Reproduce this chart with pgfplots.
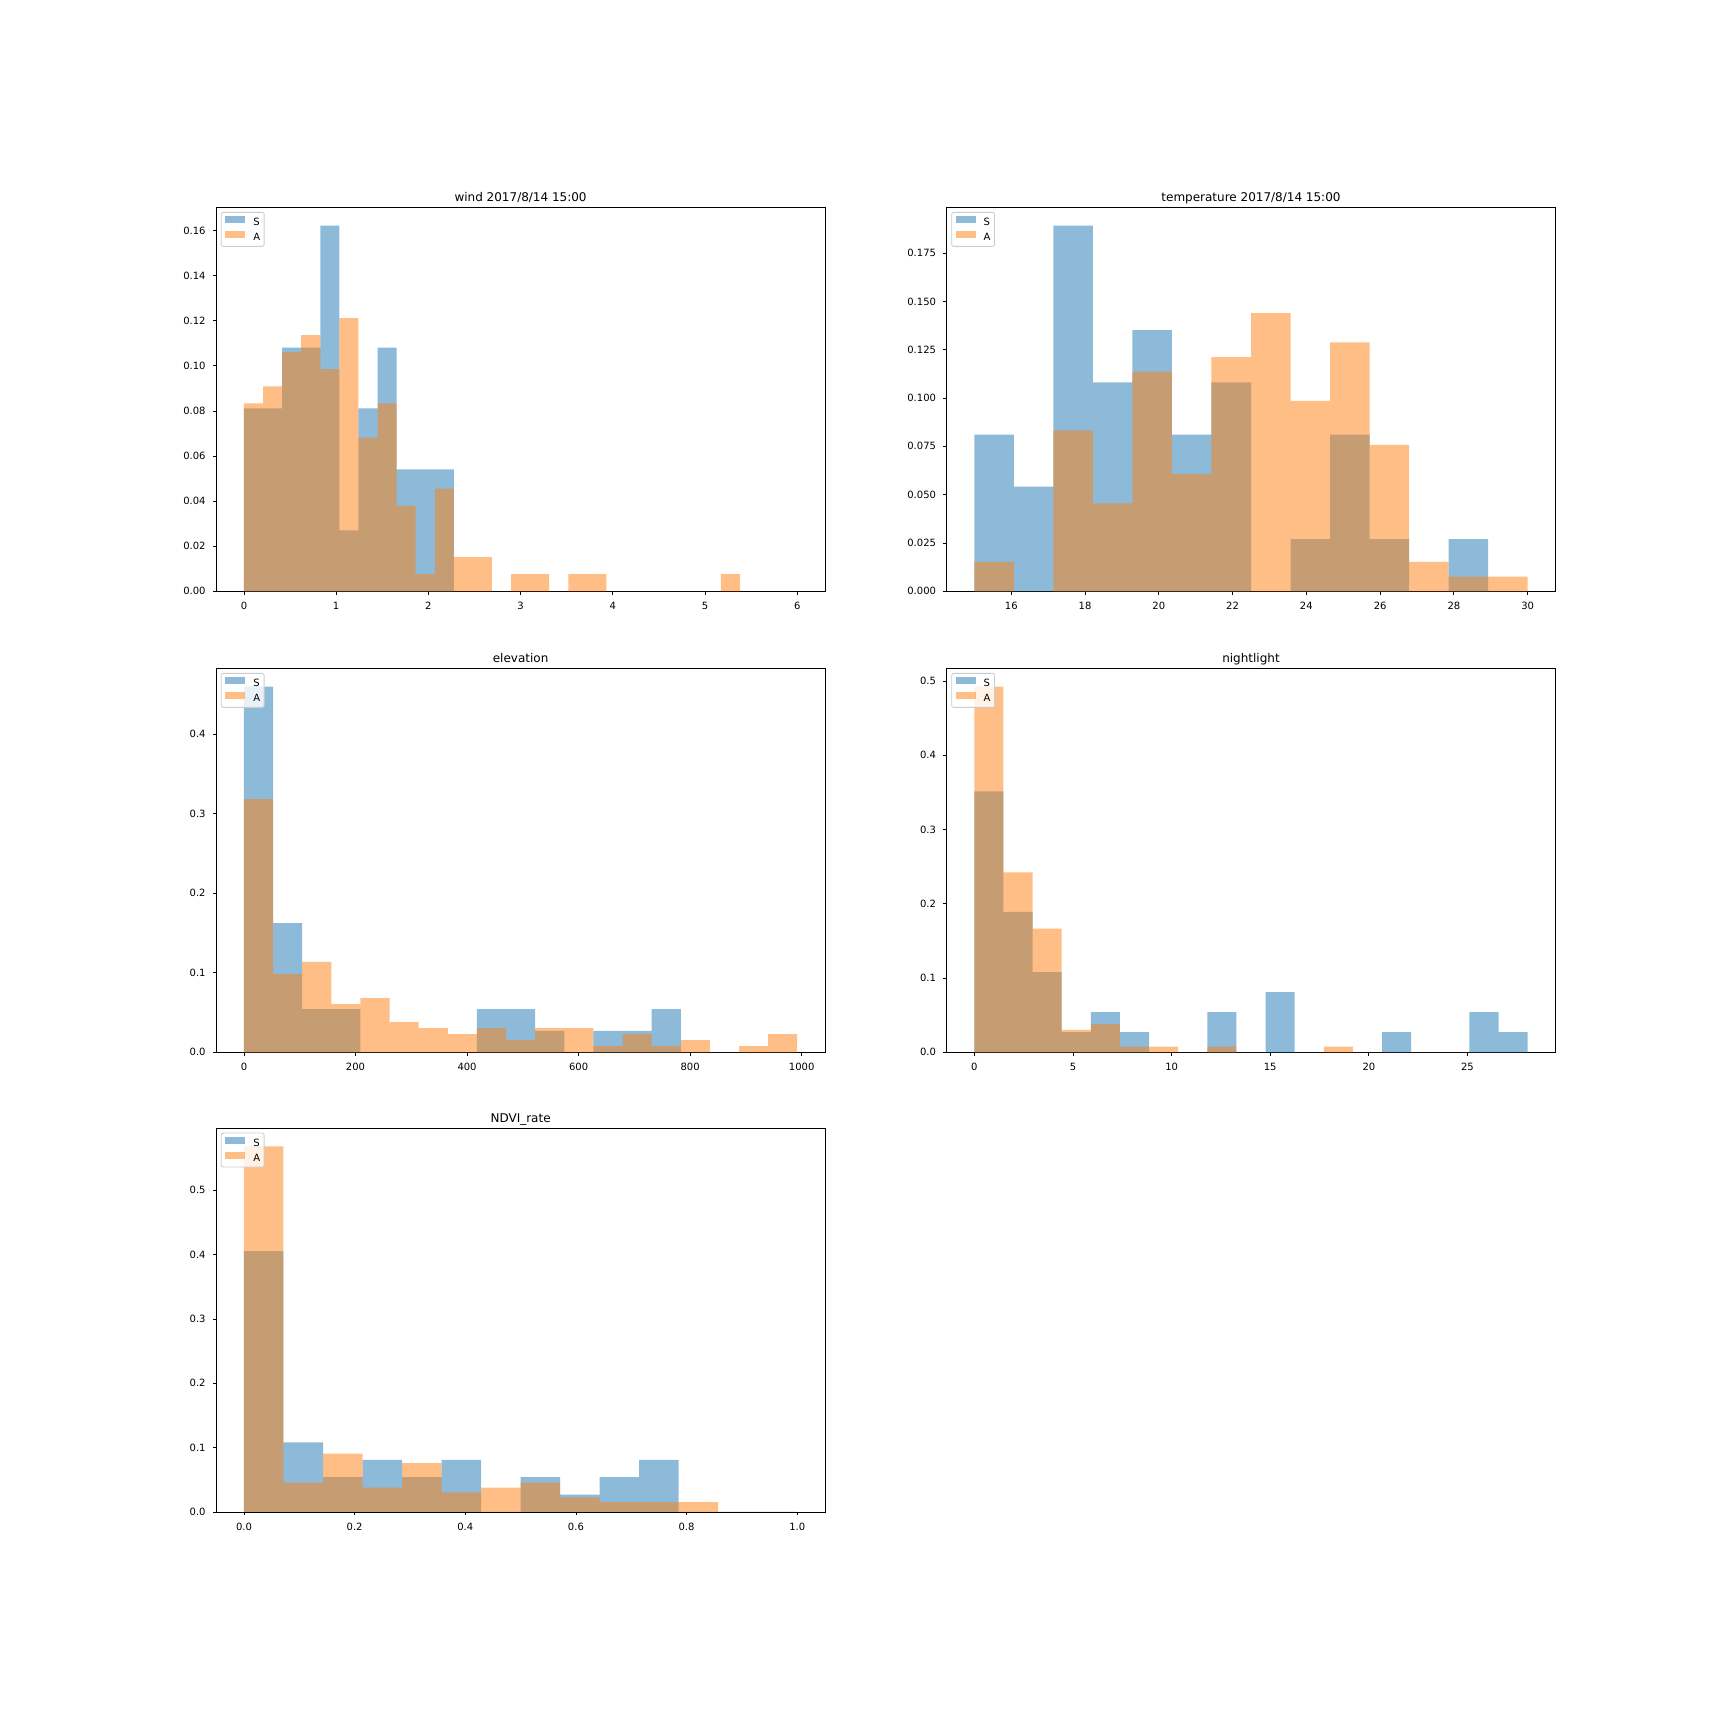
\documentclass[border=0pt]{standalone}
\usepackage{pgfplots}
\pgfplotsset{compat=1.18}
\usepackage{fontspec}
\setmainfont{DejaVu Sans}
\definecolor{c0}{HTML}{1F77B4}
\definecolor{c1}{HTML}{FF7F0E}
\definecolor{legedge}{HTML}{CCCCCC}
\pgfplotsset{
  histax/.style={
    scale only axis, width=608.6bp, height=383.9bp, anchor=south west,
    axis line style={line width=0.8bp, black},
    tick align=outside, major tick length=3.5bp,
    tick style={line width=0.8bp, black},
    xtick pos=bottom, ytick pos=left,
    ymin=0, scaled ticks=false,
    /pgf/number format/assume math mode=true,
    /pgf/number format/1000 sep={},
    every axis title shift=0pt,
    title style={at={(0.5,1)}, anchor=base, yshift=6bp, inner sep=0pt,
      font=\fontsize{12bp}{14bp}\selectfont},
    tick label style={font=\fontsize{10bp}{12bp}\selectfont, black},
    xticklabel style={anchor=north, inner sep=0pt, yshift=-7bp},
    yticklabel style={anchor=east, inner sep=0pt, xshift=-7bp},
    legend cell align=left,
    legend image code/.code={\fill[#1, sharp corners] (0bp,0bp) rectangle (20bp,7bp);},
    legend style={at={(0,1)}, anchor=north west, xshift=5bp, yshift=-5bp,
      draw=legedge, line width=0.8bp, rounded corners=2bp,
      fill=white, fill opacity=0.8, text opacity=1,
      inner sep=4bp, outer sep=0pt, row sep=4bp, column sep=8bp,
      nodes={inner sep=0pt, text height=6.6bp, text depth=1.4bp},
      font=\fontsize{10bp}{12bp}\selectfont},
  },
  sS/.style={const plot, fill=c0, fill opacity=0.5, draw=none},
  sA/.style={const plot, fill=c1, fill opacity=0.5, draw=none},
}
\begin{document}
\begin{tikzpicture}
\fill[white] (0,0) rectangle (1728bp,1728bp);
\path[use as bounding box] (0,0) rectangle (1728bp,1728bp);

% wind
\begin{axis}[histax, at={(216.3bp,1136.7bp)},
  title={wind 2017/8/14 15:00},
  xmin=-0.3, xmax=6.3, ymax=0.17027,
  xtick={0,1,2,3,4,5,6},
  ytick={0,0.02,0.04,0.06,0.08,0.10,0.12,0.14,0.16},
  yticklabel style={/pgf/number format/.cd, fixed, fixed zerofill, precision=2}]
\addplot[sS] coordinates {(0,0.0811)(0.2069,0.0811)(0.4138,0.1081)(0.6207,0.1081)(0.8276,0.1622)(1.0345,0.0270)(1.2414,0.0811)(1.4483,0.1081)(1.6552,0.0541)(1.8621,0.0541)(2.0690,0.0541)(2.2759,0.0541)} \closedcycle;
\addplot[sA] coordinates {(0,0.0833)(0.2069,0.0909)(0.4138,0.1061)(0.6207,0.1136)(0.8276,0.0985)(1.0345,0.1212)(1.2414,0.0682)(1.4483,0.0833)(1.6552,0.0379)(1.8621,0.0076)(2.0690,0.0455)(2.2759,0.0152)(2.4828,0.0152)(2.6897,0)(2.8966,0.0076)(3.1034,0.0076)(3.3103,0)(3.5172,0.0076)(3.7241,0.0076)(3.9310,0)(4.1379,0)(4.3448,0)(4.5517,0)(4.7586,0)(4.9655,0)(5.1724,0.0076)(5.3793,0.0076)} \closedcycle;
\legend{S,A}
\end{axis}

% temperature
\begin{axis}[histax, at={(946.7bp,1136.7bp)},
  title={temperature 2017/8/14 15:00},
  xmin=14.25, xmax=30.75, ymax=0.19865,
  xtick={16,18,20,22,24,26,28,30},
  ytick={0,0.025,0.05,0.075,0.1,0.125,0.15,0.175},
  yticklabel style={/pgf/number format/.cd, fixed, fixed zerofill, precision=3}]
\addplot[sS] coordinates {(15,0.0811)(16.0714,0.0541)(17.1429,0.1892)(18.2143,0.1081)(19.2857,0.1351)(20.3571,0.0811)(21.4286,0.1081)(22.5,0)(23.5714,0.0270)(24.6429,0.0811)(25.7143,0.0270)(26.7857,0)(27.8571,0.0270)(28.9286,0)(30,0)} \closedcycle;
\addplot[sA] coordinates {(15,0.0152)(16.0714,0)(17.1429,0.0833)(18.2143,0.0455)(19.2857,0.1136)(20.3571,0.0606)(21.4286,0.1212)(22.5,0.1439)(23.5714,0.0985)(24.6429,0.1288)(25.7143,0.0758)(26.7857,0.0152)(27.8571,0.0076)(28.9286,0.0076)(30,0.0076)} \closedcycle;
\legend{S,A}
\end{axis}

% elevation
\begin{axis}[histax, at={(216.3bp,675.7bp)},
  title={elevation},
  xmin=-49.6, xmax=1041.6, ymax=0.4824,
  xtick={0,200,400,600,800,1000},
  ytick={0,0.1,0.2,0.3,0.4},
  yticklabel style={/pgf/number format/.cd, fixed, fixed zerofill, precision=1}]
\addplot[sS] coordinates {(0,0.4595)(52.21,0.1622)(104.42,0.0541)(156.63,0.0541)(208.84,0)(261.05,0)(313.26,0)(365.47,0)(417.68,0.0541)(469.89,0.0541)(522.11,0.0270)(574.32,0)(626.53,0.0270)(678.74,0.0270)(730.95,0.0541)(783.16,0)(992,0)} \closedcycle;
\addplot[sA] coordinates {(0,0.3182)(52.21,0.0985)(104.42,0.1136)(156.63,0.0606)(208.84,0.0682)(261.05,0.0379)(313.26,0.0303)(365.47,0.0227)(417.68,0.0303)(469.89,0.0152)(522.11,0.0303)(574.32,0.0303)(626.53,0.0076)(678.74,0.0227)(730.95,0.0076)(783.16,0.0152)(835.37,0)(887.58,0.0076)(939.79,0.0227)(992,0.0227)} \closedcycle;
\legend{S,A}
\end{axis}

% nightlight
\begin{axis}[histax, at={(946.7bp,675.7bp)},
  title={nightlight},
  xmin=-1.4025, xmax=29.4525, ymax=0.517,
  xtick={0,5,10,15,20,25},
  ytick={0,0.1,0.2,0.3,0.4,0.5},
  yticklabel style={/pgf/number format/.cd, fixed, fixed zerofill, precision=1}]
\addplot[sS] coordinates {(0,0.3514)(1.4763,0.1892)(2.9526,0.1081)(4.4289,0.0270)(5.9053,0.0541)(7.3816,0.0270)(8.8579,0)(10.3342,0)(11.8105,0.0541)(13.2868,0)(14.7632,0.0811)(16.2395,0)(17.7158,0)(19.1921,0)(20.6684,0.0270)(22.1447,0)(23.6211,0)(25.0974,0.0541)(26.5737,0.0270)(28.05,0.0270)} \closedcycle;
\addplot[sA] coordinates {(0,0.4924)(1.4763,0.2424)(2.9526,0.1667)(4.4289,0.0303)(5.9053,0.0379)(7.3816,0.0076)(8.8579,0.0076)(10.3342,0)(11.8105,0.0076)(13.2868,0)(14.7632,0)(16.2395,0)(17.7158,0.0076)(19.1921,0)(28.05,0)} \closedcycle;
\legend{S,A}
\end{axis}

% NDVI
\begin{axis}[histax, at={(216.3bp,216bp)},
  title={NDVI\_rate},
  xmin=-0.05, xmax=1.05, ymax=0.5966,
  xtick={0,0.2,0.4,0.6,0.8,1.0},
  ytick={0,0.1,0.2,0.3,0.4,0.5},
  xticklabel style={/pgf/number format/.cd, fixed, fixed zerofill, precision=1},
  yticklabel style={/pgf/number format/.cd, fixed, fixed zerofill, precision=1}]
\addplot[sS] coordinates {(0,0.4054)(0.071429,0.1081)(0.142857,0.0541)(0.214286,0.0811)(0.285714,0.0541)(0.357143,0.0811)(0.428571,0)(0.5,0.0541)(0.571429,0.0270)(0.642857,0.0541)(0.714286,0.0811)(0.785714,0)(1,0)} \closedcycle;
\addplot[sA] coordinates {(0,0.5682)(0.071429,0.0455)(0.142857,0.0909)(0.214286,0.0379)(0.285714,0.0758)(0.357143,0.0303)(0.428571,0.0379)(0.5,0.0455)(0.571429,0.0227)(0.642857,0.0152)(0.714286,0.0152)(0.785714,0.0152)(0.857143,0)(1,0)} \closedcycle;
\legend{S,A}
\end{axis}
\end{tikzpicture}
\end{document}
